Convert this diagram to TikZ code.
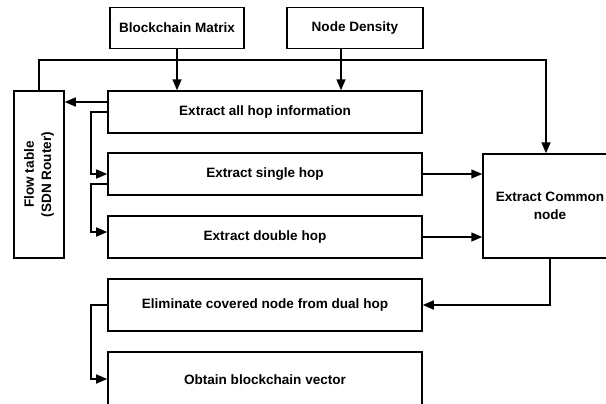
\documentclass[tikz,border=0pt]{standalone}
\usepackage{fontspec}
\setmainfont{Liberation Sans}
\usetikzlibrary{arrows.meta}
\tikzset{
  box/.style={draw, line width=1.5bp, rectangle, inner sep=0pt, align=center,
    font=\bfseries\fontsize{13.6}{17.5}\selectfont},
  arr/.style={draw, line width=1.5bp, -{Triangle[length=11bp,width=9bp]}},
  ln/.style={draw, line width=1.5bp}
}
\begin{document}
\begin{tikzpicture}[x=1bp,y=-1bp]
\useasboundingbox (0,0) rectangle (606,403);
\clip (0,0) rectangle (606,403);
\node[box, minimum width=134bp, minimum height=41bp] (bm) at (177,28) {Blockchain Matrix};
\node[box, minimum width=136bp, minimum height=41bp] (nd) at (355,28) {Node Density};
\node[box, minimum width=314bp, minimum height=42bp] (all) at (265,112) {Extract all hop information};
\node[box, minimum width=314bp, minimum height=42bp] (single) at (265,174) {Extract single hop};
\node[box, minimum width=314bp, minimum height=42bp] (double) at (265,237) {Extract double hop};
\node[box, minimum width=314bp, minimum height=52bp] (elim) at (265,305) {Eliminate covered node from dual hop};
\node[box, minimum width=314bp, minimum height=56bp] (obtain) at (265,380) {Obtain blockchain vector};
\node[box, minimum width=167bp, minimum height=50bp, rotate=90] (flow) at (39,174.5) {Flow table\\(SDN Router)};
\node[box, minimum width=134bp, minimum height=104bp] (common) at (550,206) {Extract Common\\node};
\coordinate (topR) at (546,60);
\coordinate (lx) at (91,0);
% inputs
\draw[arr] (bm.south) -- (bm.south |- all.north);
\draw[arr] ([xshift=-14bp]nd.south) -- ([xshift=-14bp]nd.south |- all.north);
% top loop from flow table to common
\draw[arr] (flow.east) |- (topR) -- (topR |- common.north);
% all hop -> flow table
\draw[arr] ([yshift=10bp]all.west) -- ([yshift=10bp]all.west -| flow.south);
% all hop -> single
\draw[arr] (all.west) -- (all.west -| lx) |- (single.west);
% single -> double
\draw[arr] ([yshift=-10bp]single.west) -- ([yshift=-10bp]single.west -| lx) |- ([yshift=5bp]double.west);
% to common
\draw[arr] (single.east) -- (single.east -| common.west);
\draw[arr] (double.east) -- (double.east -| common.west);
% common -> eliminate
\draw[arr] (common.south) |- (elim.east);
% eliminate -> obtain
\draw[arr] (elim.west) -- (elim.west -| lx) |- ([yshift=1bp]obtain.west);
\end{tikzpicture}
\end{document}
